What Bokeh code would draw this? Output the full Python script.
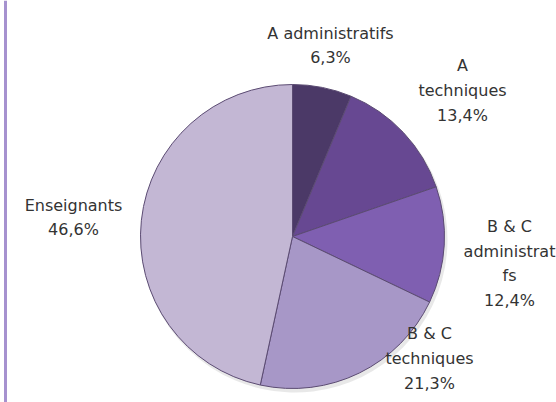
import math
from bokeh.plotting import figure
from bokeh.models import Range1d, ColumnDataSource
from bokeh.core.properties import value
from bokeh.embed import file_html
from bokeh.resources import INLINE

# ---- data ----
categories = ["A administratifs", "A techniques", "B & C administratifs",
              "B & C techniques", "Enseignants"]
values = [6.3, 13.4, 12.4, 21.3, 46.6]
label_texts = ["A administratifs\n6,3%",
               "A\ntechniques\n13,4%",
               "B & C\nadministrat\nfs\n12,4%",
               "B & C\ntechniques\n21,3%",
               "Enseignants\n46,6%"]
colors = ["#4b3967", "#674892", "#7f5fb1", "#a797c7", "#c3b7d4"]

# ---- layout (pixel-like coordinates, y downward negated) ----
W, H = 556, 402
cx, cy, r = 292, -236, 152
label_x = [330, 462, 509, 429, 73]
label_y = [-45, -90, -263, -358, -217]

total = sum(values)
starts, ends = [], []
acc = 0.0
for v in values:
    starts.append(math.pi / 2 - acc / total * 2 * math.pi)
    acc += v
    ends.append(math.pi / 2 - acc / total * 2 * math.pi)

src = ColumnDataSource(dict(cat=categories, val=values, start=starts, end=ends,
                            color=colors))

p = figure(width=W, height=H, output_backend="svg", toolbar_location=None,
           x_range=Range1d(0, W), y_range=Range1d(-H, 0),
           min_border=0, outline_line_color=None)
p.axis.visible = False
p.grid.visible = False
p.background_fill_color = "white"
p.border_fill_color = "white"

# soft shadow
p.wedge(x=cx + 2, y=cy - 3, radius=r + 1, start_angle="start", end_angle="end",
        direction="clock", source=src, fill_color="#d9d9d9", line_color=None,
        fill_alpha=0.6)

p.wedge(x=cx, y=cy, radius=r, start_angle="start", end_angle="end",
        direction="clock", source=src, fill_color="color",
        line_color="#5b4b72", line_width=1)

lab = ColumnDataSource(dict(x=label_x, y=label_y, t=label_texts))
p.text(x="x", y="y", text="t", source=lab, text_font=value("DejaVu Sans"),
       text_font_size="16px", text_color="#333333", text_align="center",
       text_baseline="middle", text_line_height=1.3)

# left border
p.segment(x0=[5], y0=[0], x1=[5], y1=[-H], line_color="#a692cf",
          line_width=3)

open("out.html", "w").write(file_html(p, INLINE))
